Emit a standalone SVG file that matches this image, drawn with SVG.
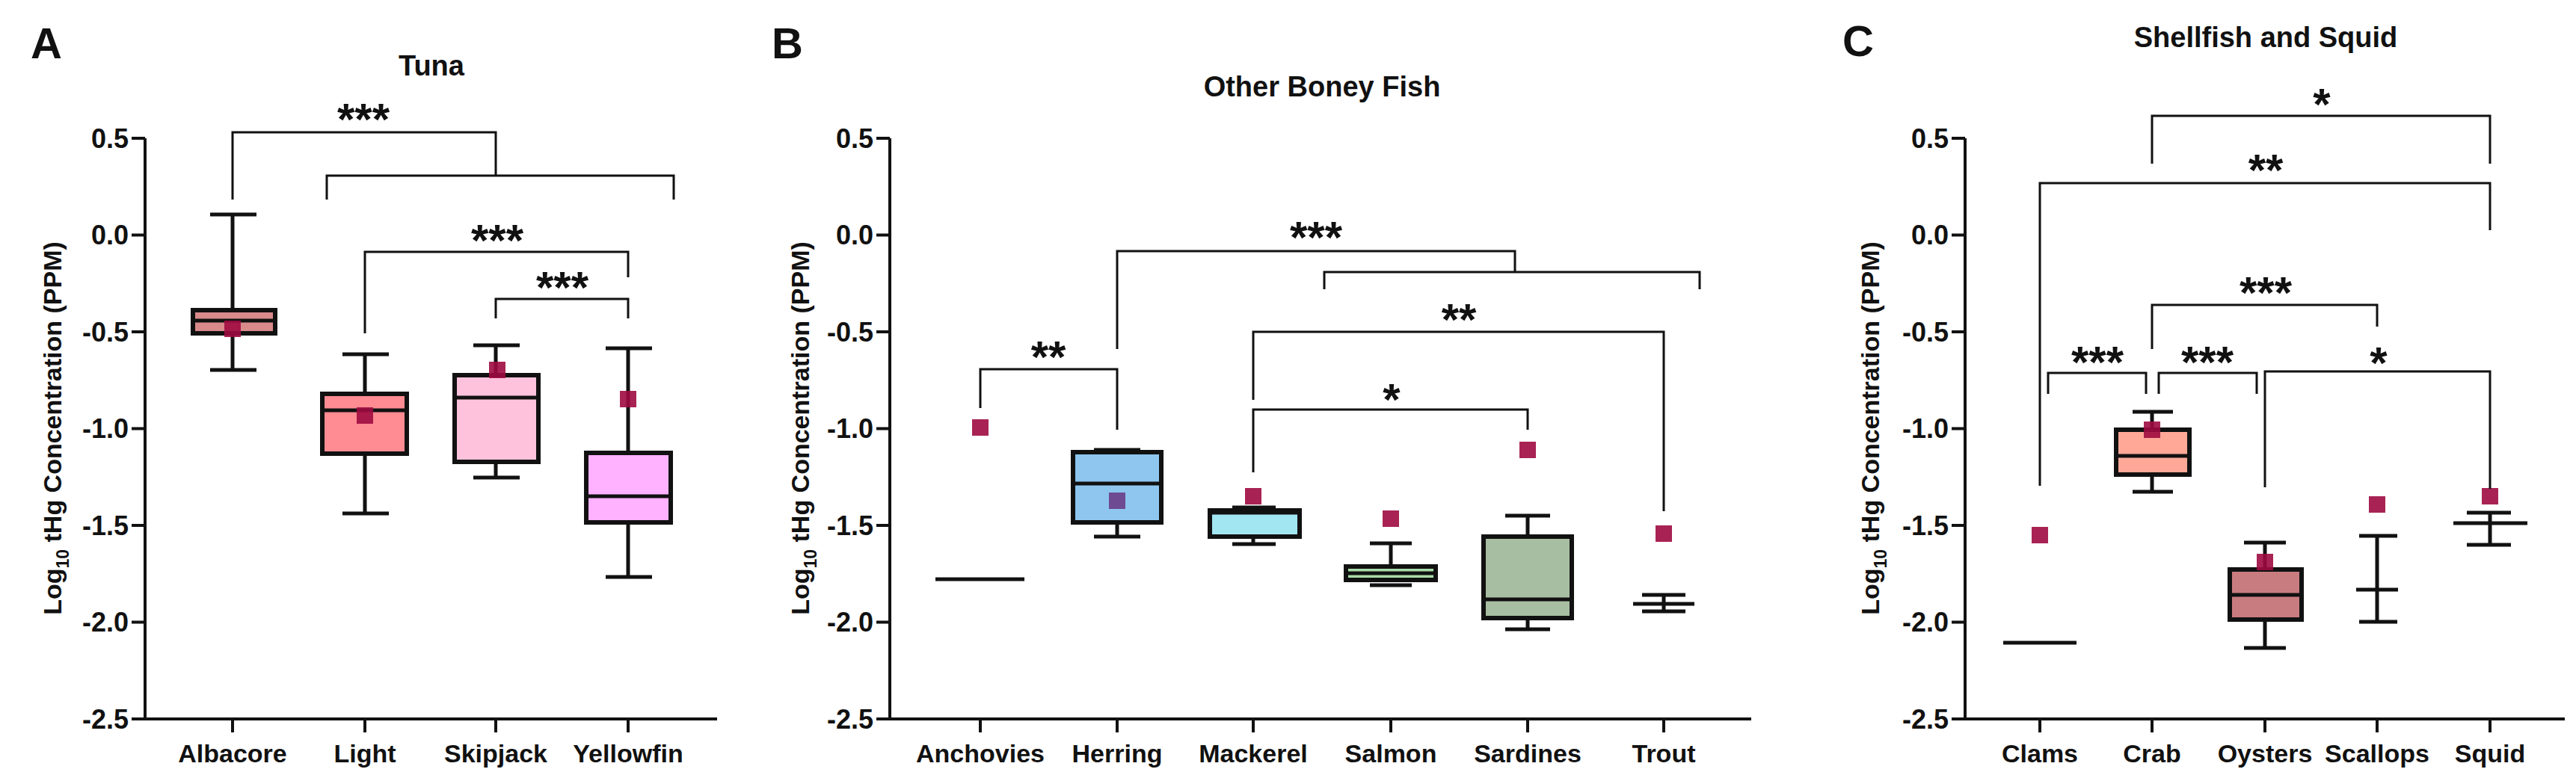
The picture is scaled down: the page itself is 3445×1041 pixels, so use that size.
<svg xmlns="http://www.w3.org/2000/svg" width="3445" height="1041" viewBox="0 0 3445 1041">
<style>
text{font-family:"Liberation Sans",Arial,sans-serif;font-weight:bold;fill:#111}
.ax{stroke:#111;stroke-width:4;fill:none}
.tl{font-size:36px;text-anchor:end}
.cl{font-size:34px;text-anchor:middle}
.tt{font-size:38px;text-anchor:middle}
.pl{font-size:58px;text-anchor:middle}
.at{font-size:34px;text-anchor:middle}
.st{font-size:60px;text-anchor:middle}
.bx{stroke:#111;stroke-width:6}
.wk{stroke:#111;stroke-width:5;fill:none}
.br{stroke:#111;stroke-width:3;fill:none}
.mn{fill:#9e0b40;opacity:.9}
</style>
<rect width="3445" height="1041" fill="#fff"/>
<!-- Panel A -->
<g id="panelA">
<text class="pl" x="62" y="78">A</text>
<text class="tt" x="577" y="101">Tuna</text>
<path class="ax" d="M194 185V962H959M176 185H194M176 314.5H194M176 444H194M176 573.5H194M176 703H194M176 832.5H194M176 962H194M311 962V980M488 962V980M663 962V980M840 962V980"/>
<text class="tl" x="172" y="198">0.5</text><text class="tl" x="172" y="327">0.0</text><text class="tl" x="172" y="457">-0.5</text><text class="tl" x="172" y="586">-1.0</text><text class="tl" x="172" y="716">-1.5</text><text class="tl" x="172" y="845">-2.0</text><text class="tl" x="172" y="975">-2.5</text>
<text class="at" transform="translate(82 573) rotate(-90)">Log<tspan font-size="23" dy="10">10</tspan><tspan dy="-10"> tHg Concentration (PPM)</tspan></text>
<text class="cl" x="311" y="1020">Albacore</text><text class="cl" x="488" y="1020">Light</text><text class="cl" x="663" y="1020">Skipjack</text><text class="cl" x="840" y="1020">Yellowfin</text>
</g>
<g id="albacore"><path class="wk" d="M311 287V415M311 446V495M281 287H343M281 495H343"/><rect class="bx" x="258" y="415" width="110" height="31" fill="#d98a8a"/><path class="wk" d="M258 429H368"/><rect class="mn" x="300" y="429" width="22" height="22"/></g>
<g id="light"><path class="wk" d="M488 474V527M488 607V687M458 474H520M458 687H520"/><rect class="bx" x="431" y="527" width="113" height="80" fill="#ff8c92"/><path class="wk" d="M431 549H544"/><rect class="mn" x="477" y="545" width="22" height="22"/></g>
<g id="skipjack"><path class="wk" d="M663 462V502M663 618V639M633 462H695M633 639H695"/><rect class="bx" x="608" y="502" width="112" height="116" fill="#ffc2dc"/><path class="wk" d="M608 532H720"/><rect class="mn" x="654" y="484" width="22" height="22"/></g>
<g id="yellowfin"><path class="wk" d="M840 466V606M840 699V772M810 466H872M810 772H872"/><rect class="bx" x="784" y="606" width="113" height="93" fill="#ffb2ff"/><path class="wk" d="M784 664H897"/><rect class="mn" x="829" y="523" width="22" height="22"/></g>
<!-- Panel B -->
<g id="panelB">
<text class="pl" x="1053" y="78">B</text>
<text class="tt" x="1768" y="129">Other Boney Fish</text>
<path class="ax" d="M1190 185V962H2342M1172 185H1190M1172 314.5H1190M1172 444H1190M1172 573.5H1190M1172 703H1190M1172 832.5H1190M1172 962H1190M1311 962V980M1494 962V980M1676 962V980M1860 962V980M2043 962V980M2225 962V980"/>
<text class="tl" x="1168" y="198">0.5</text><text class="tl" x="1168" y="327">0.0</text><text class="tl" x="1168" y="457">-0.5</text><text class="tl" x="1168" y="586">-1.0</text><text class="tl" x="1168" y="716">-1.5</text><text class="tl" x="1168" y="845">-2.0</text><text class="tl" x="1168" y="975">-2.5</text>
<text class="at" transform="translate(1082 573) rotate(-90)">Log<tspan font-size="23" dy="10">10</tspan><tspan dy="-10"> tHg Concentration (PPM)</tspan></text>
<text class="cl" x="1311" y="1020">Anchovies</text><text class="cl" x="1494" y="1020">Herring</text><text class="cl" x="1676" y="1020">Mackerel</text><text class="cl" x="1860" y="1020">Salmon</text><text class="cl" x="2043" y="1020">Sardines</text><text class="cl" x="2225" y="1020">Trout</text>
</g>
<g id="anchovies"><path class="wk" d="M1251 775H1370"/><rect class="mn" x="1300" y="561" width="22" height="22"/></g>
<g id="herring"><path class="wk" d="M1494 699V718M1463 602H1525M1463 718H1525"/><rect class="bx" x="1435" y="605" width="118" height="94" fill="#8ec6f0"/><path class="wk" d="M1435 647H1553"/><rect x="1483" y="659" width="22" height="22" fill="#6e4a92"/></g>
<g id="mackerel"><path class="wk" d="M1676 718V728M1648 679H1706M1648 728H1706"/><rect class="bx" x="1618" y="683" width="120" height="35" fill="#a2e6f2"/><path class="wk" d="M1618 686H1738"/><rect class="mn" x="1665" y="653" width="22" height="22"/></g>
<g id="salmon"><path class="wk" d="M1860 727V758M1832 727H1888M1832 783H1888"/><rect class="bx" x="1800" y="758" width="120" height="18" fill="#a8dca8"/><path class="wk" d="M1800 767H1920"/><rect class="mn" x="1849" y="683" width="22" height="22"/></g>
<g id="sardines"><path class="wk" d="M2043 690V718M2043 827V842M2013 690H2073M2013 842H2073"/><rect class="bx" x="1984" y="718" width="118" height="109" fill="#a8bea2"/><path class="wk" d="M1984 802H2102"/><rect class="mn" x="2032" y="591" width="22" height="22"/></g>
<g id="trout"><path class="wk" d="M2184 808H2266M2225 796V818M2196 796H2254M2196 818H2254"/><rect class="mn" x="2214" y="703" width="22" height="22"/></g>
<!-- Panel C -->
<g id="panelC">
<text class="pl" x="2485" y="75">C</text>
<text class="tt" x="3030" y="63">Shellfish and Squid</text>
<path class="ax" d="M2628 185V962H3430M2610 185H2628M2610 314.5H2628M2610 444H2628M2610 573.5H2628M2610 703H2628M2610 832.5H2628M2610 962H2628M2728 962V980M2878 962V980M3029 962V980M3179 962V980M3330 962V980"/>
<text class="tl" x="2606" y="198">0.5</text><text class="tl" x="2606" y="327">0.0</text><text class="tl" x="2606" y="457">-0.5</text><text class="tl" x="2606" y="586">-1.0</text><text class="tl" x="2606" y="716">-1.5</text><text class="tl" x="2606" y="845">-2.0</text><text class="tl" x="2606" y="975">-2.5</text>
<text class="at" transform="translate(2513 573) rotate(-90)">Log<tspan font-size="23" dy="10">10</tspan><tspan dy="-10"> tHg Concentration (PPM)</tspan></text>
<text class="cl" x="2728" y="1020">Clams</text><text class="cl" x="2878" y="1020">Crab</text><text class="cl" x="3029" y="1020">Oysters</text><text class="cl" x="3179" y="1020">Scallops</text><text class="cl" x="3330" y="1020">Squid</text>
</g>
<g id="clams"><path class="wk" d="M2679 860H2777"/><rect class="mn" x="2717" y="705" width="22" height="22"/></g>
<g id="crab"><path class="wk" d="M2878 551V575M2878 635V658M2852 551H2906M2852 658H2906"/><rect class="bx" x="2830" y="575" width="98" height="60" fill="#ffa898"/><path class="wk" d="M2830 610H2928"/><rect class="mn" x="2867" y="564" width="22" height="22"/></g>
<g id="oysters"><path class="wk" d="M3029 726V762M3029 829V867M3001 726H3057M3001 867H3057"/><rect class="bx" x="2982" y="762" width="96" height="67" fill="#c87c80"/><path class="wk" d="M2982 796H3078"/><rect class="mn" x="3018" y="741" width="22" height="22"/></g>
<g id="scallops"><path class="wk" d="M3151 789H3207M3179 717V832M3155 717H3206M3155 832H3206"/><rect class="mn" x="3168" y="664" width="22" height="22"/></g>
<g id="squid"><path class="wk" d="M3281 700H3380M3330 686V729M3299 686H3358M3299 729H3358"/><rect class="mn" x="3319" y="653" width="22" height="22"/></g>
<!-- Connectors -->
<g id="connectors">
<path class="br" d="M311 267V177H663V235M437 267V235H901V267"/>
<path class="br" d="M488 446V337H840V371"/>
<path class="br" d="M663 426V400H840V426"/>
<path class="br" d="M1311 546V494H1494V575"/>
<path class="br" d="M1494 467V336H2026V364M1771 387V364H2273V387"/>
<path class="br" d="M1676 535V444H2225V684"/>
<path class="br" d="M1676 632V548H2043V575"/>
<path class="br" d="M2878 219V155H3330V219"/>
<path class="br" d="M2728 650V245H3330V308"/>
<path class="br" d="M2878 467V408H3179V437"/>
<path class="br" d="M2739 527V499H2870V527"/>
<path class="br" d="M2887 527V499H3018V527"/>
<path class="br" d="M3029 652V497H3330V654"/>
</g>
<g id="labels">
<text class="st" x="486" y="180">***</text>
<text class="st" x="665" y="342">***</text>
<text class="st" x="752" y="405">***</text>
<text class="st" x="1402" y="498">**</text>
<text class="st" x="1760" y="338">***</text>
<text class="st" x="1951" y="448">**</text>
<text class="st" x="1861" y="555">*</text>
<text class="st" x="3105" y="160">*</text>
<text class="st" x="3030" y="248">**</text>
<text class="st" x="3030" y="412">***</text>
<text class="st" x="2805" y="505">***</text>
<text class="st" x="2952" y="505">***</text>
<text class="st" x="3181" y="506">*</text>
</g>
</svg>
